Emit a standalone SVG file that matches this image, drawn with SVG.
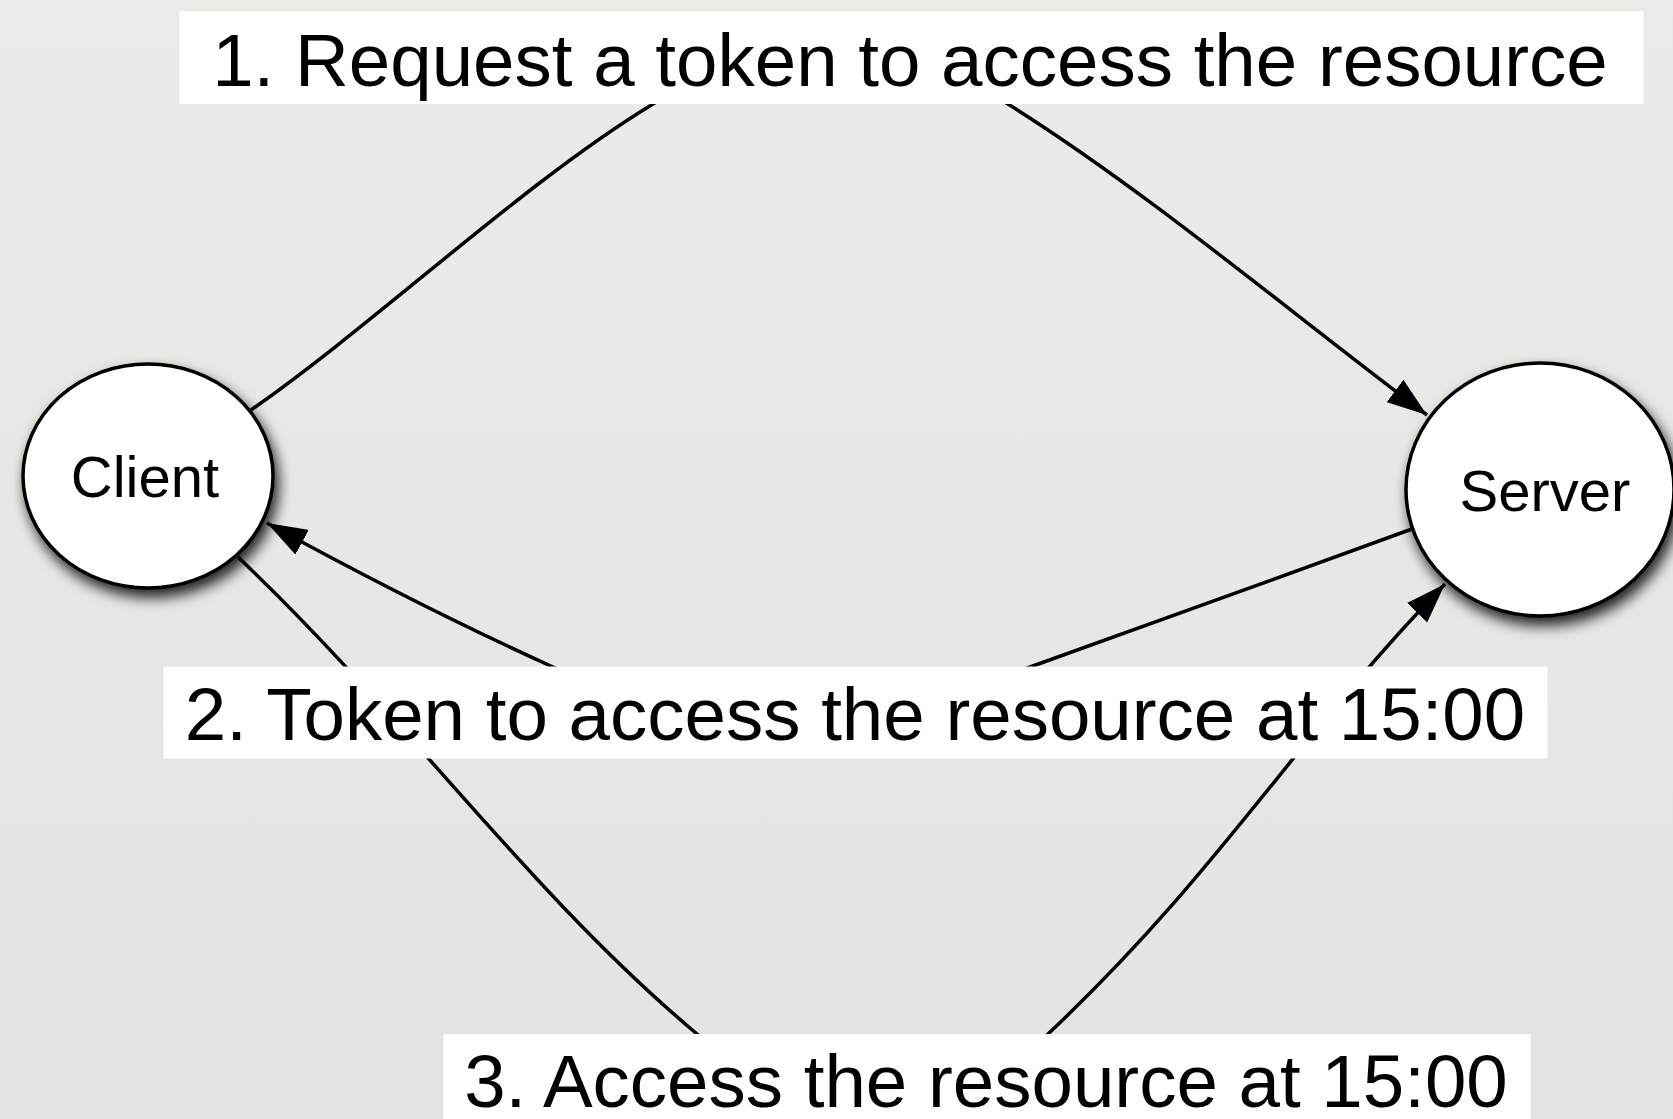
<svg xmlns="http://www.w3.org/2000/svg" width="1673" height="1119" viewBox="0 0 1673 1119">
  <style>
    .node { fill: #ffffff; stroke: #000000; stroke-width: 3.5; filter: url(#shadow); }
    .node-text { font-family: "Liberation Sans", Arial, Helvetica, sans-serif; font-size: 58px; fill: #000000; text-anchor: middle; }
    .edge { fill: none; stroke: #000000; stroke-width: 3.5; }
    .label-box { fill: #ffffff; }
    .label-text { font-family: "Liberation Sans", Arial, Helvetica, sans-serif; font-size: 74.5px; fill: #000000; text-anchor: middle; }
  </style>
  <defs>
    <linearGradient id="paper" x1="0" y1="0" x2="0" y2="1">
      <stop offset="0" stop-color="#ebebe8"/>
      <stop offset="1" stop-color="#e3e4df"/>
    </linearGradient>
    <filter id="shadow" x="-30%" y="-30%" width="160%" height="170%">
      <feDropShadow dx="4" dy="8" stdDeviation="7" flood-color="#000000" flood-opacity="0.85"/>
    </filter>
    <marker id="arrow" markerUnits="userSpaceOnUse" viewBox="0 0 40 28" markerWidth="40" markerHeight="28" refX="40" refY="14" orient="auto">
      <path d="M0,0 L40,14 L0,28 Z" fill="#000000"/>
    </marker>
  </defs>

  <!-- background -->
  <rect x="0" y="0" width="1673" height="1119" fill="url(#paper)"/>

  <!-- nodes -->
  <g id="node-client">
    <ellipse class="node" cx="148" cy="476" rx="125" ry="112"/>
    <text class="node-text" x="145" y="497">Client</text>
  </g>
  <g id="node-server">
    <ellipse class="node" cx="1540" cy="489.5" rx="134" ry="126.5"/>
    <text class="node-text" x="1545" y="511">Server</text>
  </g>

  <!-- connectors -->
  <g id="connectors">
    <!-- 1: client to server over the top -->
    <path id="edge-request" class="edge" marker-end="url(#arrow)"
          d="M251,410 C381,319 523,183 653,104 C733,55 790,48 830,48 C870,48 930,55 1008,104 C1148,192 1287,310 1427,415"/>
    <!-- 2: server back to client with the token -->
    <path id="edge-token" class="edge" marker-end="url(#arrow)"
          d="M1412,529 C1300,570 1150,624 1030,667 C950,696 880,715 790,715 C700,715 620,696 553,667 C480,634 380,585 267,523"/>
    <!-- 3: client to server underneath -->
    <path id="edge-access" class="edge" marker-end="url(#arrow)"
          d="M238,557 C408,718.5 527,891 697,1034 C760,1087 820,1100 872,1100 C925,1100 990,1089 1048,1034 C1220,872 1295,738.5 1445,584"/>
  </g>

  <!-- connector labels -->
  <g id="labels">
    <g id="label-request">
      <rect class="label-box" x="179.5" y="11.5" width="1464" height="92.5"/>
      <text class="label-text" x="910" y="86">1. Request a token to access the resource</text>
    </g>
    <g id="label-token">
      <rect class="label-box" x="163.5" y="666.5" width="1384" height="92"/>
      <text class="label-text" x="855" y="740">2. Token to access the resource at 15:00</text>
    </g>
    <g id="label-access">
      <rect class="label-box" x="443.5" y="1034" width="1087" height="90"/>
      <text class="label-text" x="986" y="1107">3. Access the resource at 15:00</text>
    </g>
  </g>
</svg>
